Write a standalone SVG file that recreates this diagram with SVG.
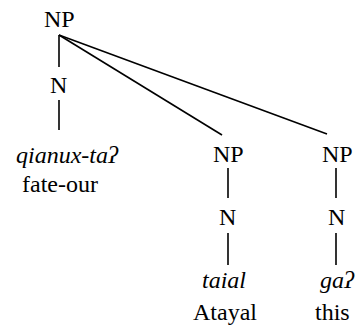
<svg xmlns="http://www.w3.org/2000/svg" width="360" height="331" viewBox="0 0 360 331">
<style>
.t{font-family:'Liberation Serif','Times New Roman',Times,serif;font-size:24px;fill:#000}
.i{font-style:italic}
.c{stroke:#000;stroke-width:1.6}
</style>
<rect width="360" height="331" fill="#fff"/>
<g id="connectors" class="c">
<line x1="59" y1="35" x2="59" y2="67"/>
<line x1="59" y1="100" x2="59" y2="130"/>
<line x1="59" y1="35" x2="222" y2="135"/>
<line x1="59" y1="35" x2="327" y2="134"/>
<line x1="228" y1="168" x2="228" y2="198"/>
<line x1="228" y1="233" x2="228" y2="265"/>
<line x1="336" y1="168" x2="336" y2="198"/>
<line x1="336" y1="233" x2="336" y2="265"/>
</g>
<g id="np-root"><text class="t" x="44" y="27">NP</text></g>
<g id="n-left"><text class="t" x="50" y="93">N</text></g>
<g id="leaf-left"><text class="t i" x="16" y="163">qianux-taʔ</text><text class="t" x="22" y="192">fate-our</text></g>
<g id="np-mid"><text class="t" x="213" y="162">NP</text></g>
<g id="n-mid"><text class="t" x="219" y="225">N</text></g>
<g id="leaf-mid"><text class="t i" x="202" y="288">taial</text><text class="t" x="193" y="320">Atayal</text></g>
<g id="np-right"><text class="t" x="322" y="162">NP</text></g>
<g id="n-right"><text class="t" x="328" y="225">N</text></g>
<g id="leaf-right"><text class="t i" x="320" y="288">gaʔ</text><text class="t" x="315" y="320">this</text></g>
</svg>
